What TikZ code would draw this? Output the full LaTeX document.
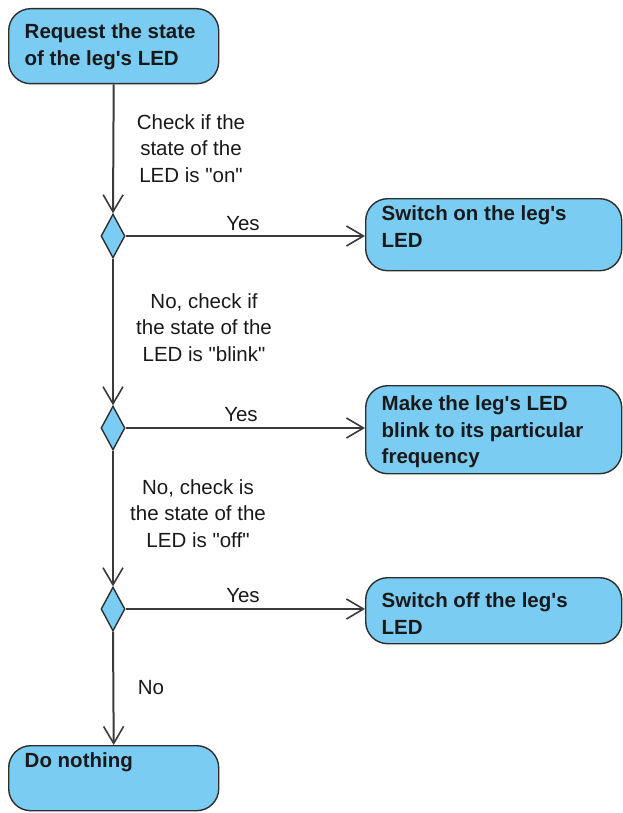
\documentclass[tikz,border=0pt]{standalone}
\usepackage{fontspec}
\setmainfont{Liberation Sans}[Ligatures=TeXOff]
\usetikzlibrary{arrows.meta,shapes.geometric}

\definecolor{actfill}{HTML}{7ACCF3}
\definecolor{edgec}{HTML}{2E2E2E}
\definecolor{flowc}{HTML}{3A3A3A}

% fixed-height, top-aligned text block for an action box
\newcommand{\acttext}[4]{\parbox[t][#1][t]{#2}{\vspace*{#3}\raggedright #4}}

\tikzset{
  act/.style={draw=edgec, line width=1.4pt, fill=actfill, rounded corners=22pt,
    anchor=north west, inner xsep=16pt, inner ysep=0pt,
    font=\fontsize{20.5}{26.5}\selectfont\bfseries, text=black!90},
  dec/.style={diamond, draw=edgec, line width=1.4pt, fill=actfill,
    minimum width=24pt, minimum height=44pt, inner sep=0pt},
  flow/.style={draw=flowc, line width=2pt,
    -{Straight Barb[length=17pt,width=20pt,line width=1.6pt]}},
  lbl/.style={font=\fontsize{20.5}{26.5}\selectfont, align=center, inner sep=0pt,
    text=black!90},
}

\begin{document}
\begin{tikzpicture}[x=1pt, y=-1pt]
  \useasboundingbox (0,0) rectangle (623,813);

  % action boxes
  \node[act] (b1) at (8,8)
    {\acttext{75pt}{178pt}{15pt}{Request the state\\of the leg's LED}};
  \node[act] (b2) at (365,198)
    {\acttext{72pt}{224pt}{7pt}{Switch on the leg's\\LED}};
  \node[act] (b3) at (365,385)
    {\acttext{88pt}{224pt}{10pt}{Make the leg's LED\\blink to its particular\\frequency}};
  \node[act] (b4) at (365,577)
    {\acttext{66pt}{224pt}{15pt}{Switch off the leg's\\LED}};
  \node[act] (b5) at (8,745)
    {\acttext{65pt}{178pt}{7pt}{Do nothing}};

  % decisions
  \node[dec] (d1) at (113,236) {};
  \node[dec] (d2) at (113,428) {};
  \node[dec] (d3) at (113,609) {};

  % flow down the left side
  \draw[flow] (b1.south) -- (d1.north);
  \draw[flow] (d1.south) -- (d2.north);
  \draw[flow] (d2.south) -- (d3.north);
  \draw[flow] (d3.south) -- (b5.north);

  % branches to the right
  \draw[flow] (d1.east) -- (d1.east -| b2.west);
  \draw[flow] (d2.east) -- (d2.east -| b3.west);
  \draw[flow] (d3.east) -- (d3.east -| b4.west);

  % guard labels
  \node[lbl, anchor=north] (q1) at (191,114) {Check if the\\state of the\\LED is "on"};
  \node[lbl, anchor=north] (q2) at (204,293) {No, check if\\the state of the\\LED is "blink"};
  \node[lbl, anchor=north] (q3) at (198,479) {No, check is\\the state of the\\LED is "off"};

  \node[lbl, anchor=base] (y1) at (243,230) {Yes};
  \node[lbl, anchor=base] (y2) at (241,421) {Yes};
  \node[lbl, anchor=base] (y3) at (243,602) {Yes};
  \node[lbl, anchor=base] (n1) at (151,694) {No};
\end{tikzpicture}
\end{document}
